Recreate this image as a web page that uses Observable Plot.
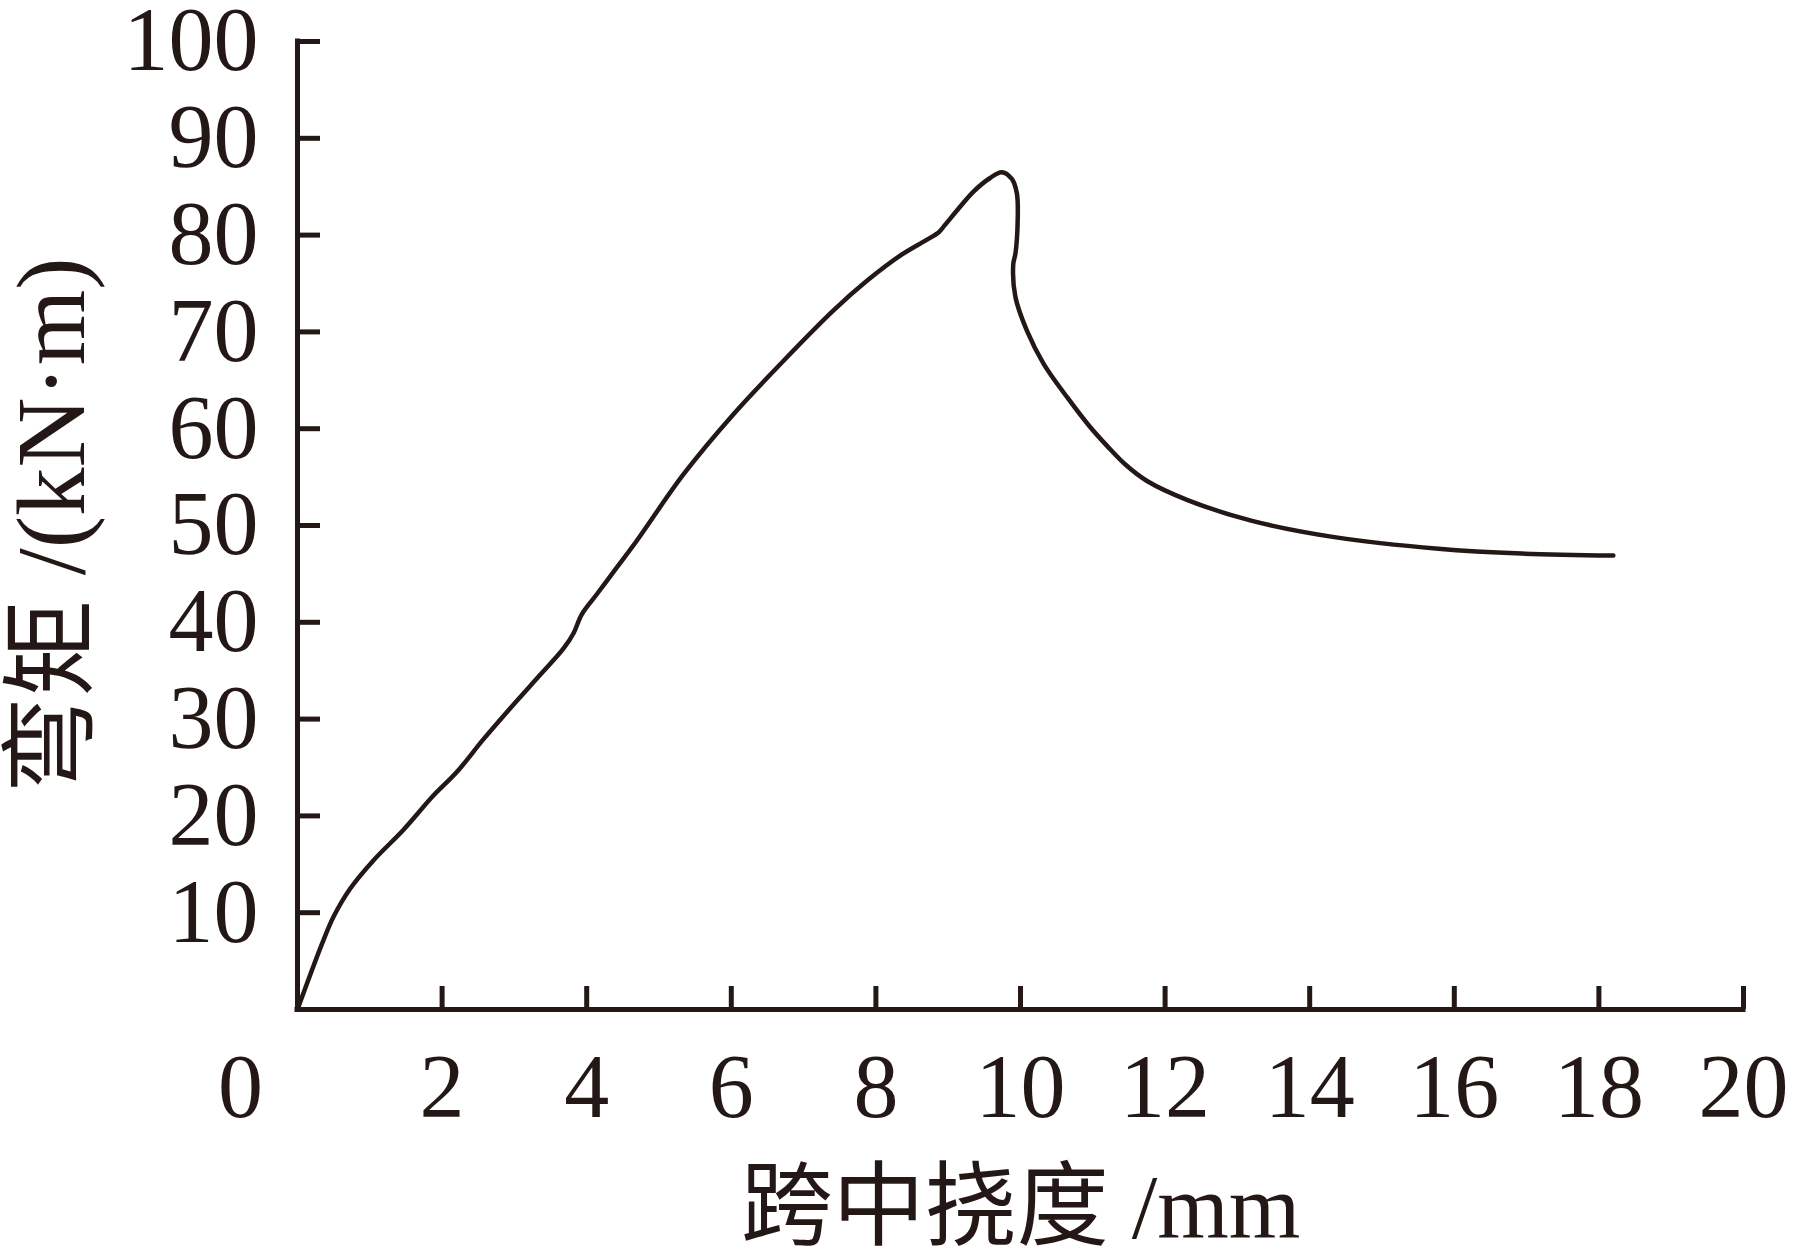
<!DOCTYPE html>
<html><head><meta charset="utf-8">
<script src="https://cdn.jsdelivr.net/npm/d3@7"></script>
<script src="https://cdn.jsdelivr.net/npm/@observablehq/plot@0.6"></script>
<style>body{margin:0;background:#fff}</style>
</head><body><div id="chart"></div>
<script>
// Mid-span deflection (mm) and bending moment (kN·m)
const deflection = [0, 0.34, 0.50, 0.73, 1.05, 1.47, 1.88, 2.20, 2.57, 2.94, 3.36, 3.68, 3.82, 3.93, 4.14, 4.42, 4.69, 5.34, 6.03, 6.72, 7.41, 7.88, 8.34, 8.70, 8.87, 8.95, 9.15, 9.35, 9.58, 9.74, 9.88, 9.95, 9.96, 9.93, 9.90, 9.93, 10.09, 10.32, 10.66, 10.96, 11.20, 11.45, 11.75, 12.32, 13.19, 14.34, 15.78, 16.93, 18.20];
const moment     = [0, 6.8, 9.6, 12.5, 15.4, 18.6, 22.1, 24.5, 27.9, 31.1, 34.6, 37.3, 38.9, 40.8, 42.9, 45.7, 48.4, 55.3, 61.5, 67.0, 72.2, 75.3, 77.9, 79.5, 80.3, 81.0, 82.8, 84.5, 85.9, 86.5, 85.8, 84.3, 81.2, 78.1, 77.0, 73.6, 70.1, 66.7, 63.1, 60.2, 58.2, 56.3, 54.6, 52.6, 50.5, 48.8, 47.6, 47.1, 46.9];
const xTicks = [2, 4, 6, 8, 10, 12, 14, 16, 18, 20];
const xOrigin = [0];
const yTicks = [10, 20, 30, 40, 50, 60, 70, 80, 90, 100];
const xLabel = "跨中挠度 /mm";
const yLabel = "弯矩 /(kN·m)";

const data = deflection.map((x, i) => ({x, y: moment[i]}));
const W = 1799, H = 1259, mL = 297, mR = 56, mT = 41, mB = 250;
const ink = "#231815";
const fontFamily = "'Liberation Serif','Times New Roman','Noto Sans CJK SC',serif";
const fs = 90;

const chart = Plot.plot({
  width: W, height: H,
  marginLeft: mL, marginRight: mR, marginTop: mT, marginBottom: mB,
  x: {domain: [0, 20]},
  y: {domain: [0, 100]},
  style: {fontFamily, color: ink, background: "white", overflow: "visible"},
  marks: [
    Plot.axisX(xTicks, {tickSize: 0, tickPadding: 44, fontSize: fs, fill: ink, label: null}),
    Plot.axisX(xOrigin, {tickSize: 0, tickPadding: 44, fontSize: fs, fill: ink, dx: -57, label: null}),
    Plot.axisY(yTicks, {tickSize: 0, tickPadding: 39, fontSize: fs, fill: ink, label: null}),
    Plot.tickX(xTicks, {x: d => d, insetTop: (H - mT - mB) - 23, stroke: ink, strokeWidth: 5}),
    Plot.tickY(yTicks, {y: d => d, insetRight: (W - mL - mR) - 23, stroke: ink, strokeWidth: 5}),
    Plot.ruleY([0], {stroke: ink, strokeWidth: 5, strokeLinecap: "square"}),
    Plot.ruleX([0], {stroke: ink, strokeWidth: 5, strokeLinecap: "square"}),
    Plot.line(data, {x: "x", y: "y", curve: "catmull-rom", stroke: ink, strokeWidth: 4.5, strokeLinejoin: "round"}),
    Plot.text([xLabel], {text: d => d, frameAnchor: "bottom", dy: 199, fontSize: 92, lineAnchor: "middle", textAnchor: "middle", fill: ink}),
    Plot.text([yLabel], {text: d => d, frameAnchor: "left", dx: -245, rotate: -90, fontSize: 97, lineAnchor: "middle", textAnchor: "middle", fill: ink})
  ]
});
document.getElementById("chart").appendChild(chart);
</script>
</body></html>
